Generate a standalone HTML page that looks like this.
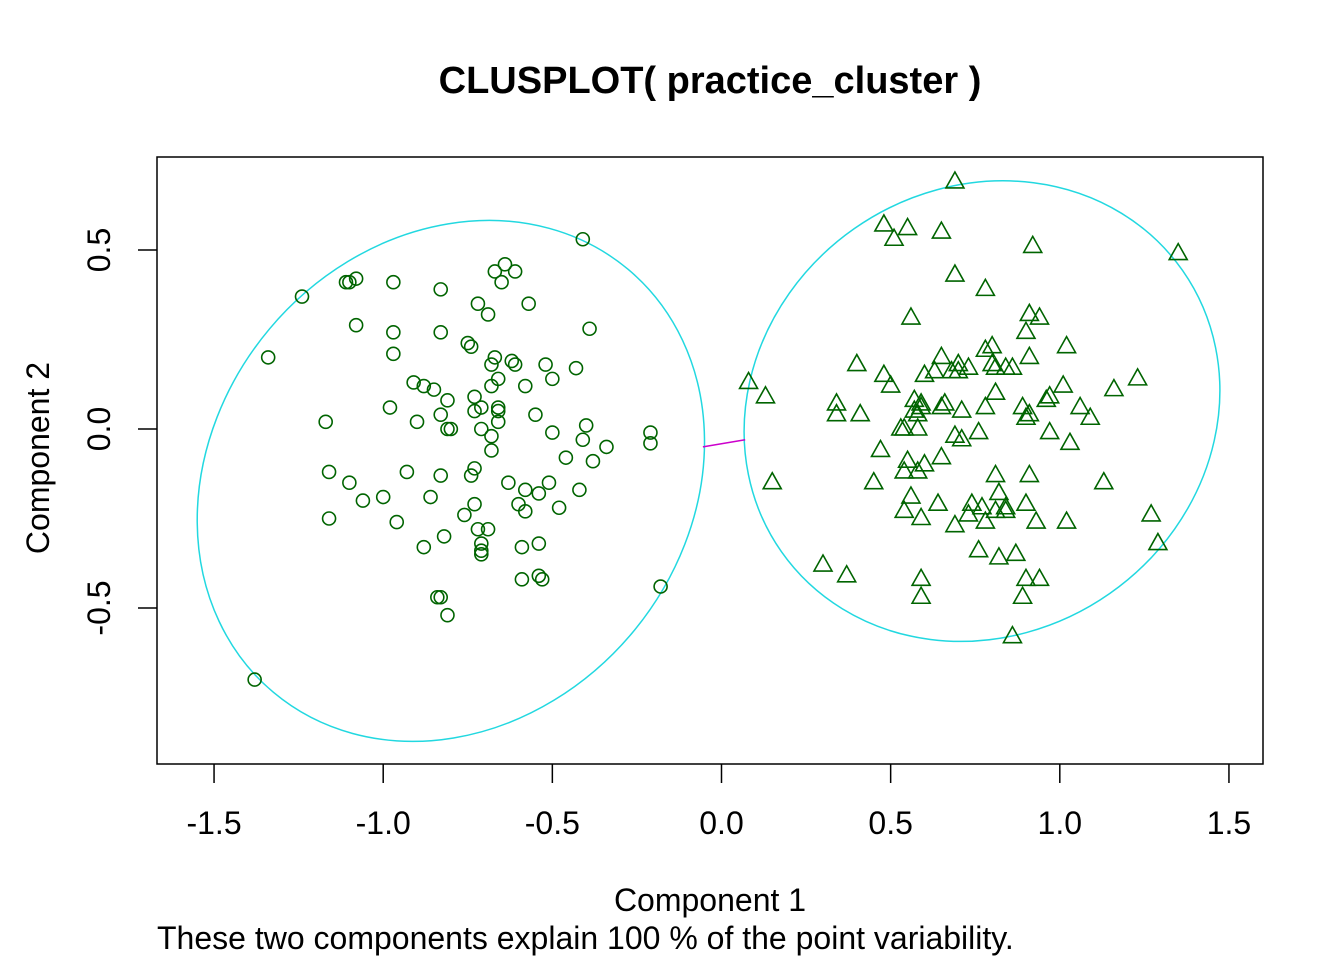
<!DOCTYPE html>
<html><head><meta charset="utf-8"><style>
html,body{margin:0;padding:0;background:#fff;}
svg{display:block;font-family:"Liberation Sans",Arial,sans-serif;}
</style></head><body>
<svg id="chart" width="1344" height="960" viewBox="0 0 1344 960" xmlns="http://www.w3.org/2000/svg">
<rect x="0" y="0" width="1344" height="960" fill="#fff"/>
<text x="710" y="93" font-size="38" font-weight="bold" text-anchor="middle">CLUSPLOT( practice_cluster )</text>
<g id="marks"></g>
<rect x="157" y="157" width="1106" height="607" fill="none" stroke="#000" stroke-width="1.5"/>
<g id="axes"></g>
<text x="710" y="911" font-size="32" text-anchor="middle">Component 1</text>
<text x="0" y="0" font-size="32" text-anchor="middle" transform="translate(49,458) rotate(-90)">Component 2</text>
<text x="157" y="949" font-size="32">These two components explain 100 % of the point variability.</text>
</svg>
<script>
const xTicks=[-1.5,-1.0,-0.5,0.0,0.5,1.0,1.5];
const xTickLabels=["-1.5","-1.0","-0.5","0.0","0.5","1.0","1.5"];
const yTicks=[-0.5,0.0,0.5];
const yTickLabels=["-0.5","0.0","0.5"];
const cluster1X=[-0.41,-1.24,-1.34,-1.11,-1.10,-1.08,-0.97,-1.08,-0.97,-0.97,-0.83,-0.72,-0.69,-0.83,-0.75,-0.74,-0.67,-0.64,-0.61,-0.65,-0.57,-0.39,-0.67,-0.62,-0.61,-0.68,-0.66,-0.68,-0.58,-0.52,-0.50,-0.43,-0.91,-0.88,-0.85,-0.73,-0.81,-0.98,-0.83,-0.90,-0.73,-0.71,-0.66,-0.66,-0.55,-0.40,-1.17,-0.81,-0.80,-0.71,-0.66,-0.68,-0.50,-0.41,-0.34,-0.38,-0.46,-0.21,-0.21,-0.68,-1.16,-1.10,-1.06,-1.00,-0.93,-0.83,-0.73,-0.74,-0.63,-0.58,-0.54,-0.51,-0.42,-1.16,-0.96,-0.86,-0.73,-0.76,-0.60,-0.58,-0.48,-0.88,-0.82,-0.72,-0.69,-0.71,-0.71,-0.71,-0.59,-0.54,-0.59,-0.54,-0.53,-0.84,-0.83,-0.81,-0.18,-1.38];
const cluster1Y=[0.53,0.37,0.20,0.41,0.41,0.42,0.41,0.29,0.27,0.21,0.39,0.35,0.32,0.27,0.24,0.23,0.44,0.46,0.44,0.41,0.35,0.28,0.20,0.19,0.18,0.18,0.14,0.12,0.12,0.18,0.14,0.17,0.13,0.12,0.11,0.09,0.08,0.06,0.04,0.02,0.05,0.06,0.06,0.05,0.04,0.01,0.02,0.00,0.00,0.00,0.02,-0.02,-0.01,-0.03,-0.05,-0.09,-0.08,-0.01,-0.04,-0.06,-0.12,-0.15,-0.20,-0.19,-0.12,-0.13,-0.11,-0.13,-0.15,-0.17,-0.18,-0.15,-0.17,-0.25,-0.26,-0.19,-0.21,-0.24,-0.21,-0.23,-0.22,-0.33,-0.30,-0.28,-0.28,-0.32,-0.34,-0.35,-0.33,-0.32,-0.42,-0.41,-0.42,-0.47,-0.47,-0.52,-0.44,-0.70];
const cluster2X=[0.69,1.35,0.48,0.55,0.51,0.65,0.92,0.69,0.78,0.56,0.91,0.94,0.90,1.02,0.65,0.78,0.80,0.70,0.63,0.68,0.70,0.40,0.60,0.48,0.50,0.91,0.84,0.81,0.86,0.80,0.73,0.08,0.13,1.01,1.16,1.23,0.81,0.97,0.96,0.34,0.41,0.34,0.57,0.59,0.59,0.66,0.65,0.58,0.57,0.71,0.78,0.89,0.91,0.90,1.06,1.09,0.97,1.03,0.53,0.54,0.58,0.76,0.69,0.71,0.47,0.65,0.55,0.60,0.54,0.58,0.45,0.15,0.81,0.91,1.13,0.82,0.56,0.64,0.54,0.74,0.77,0.90,0.84,0.84,0.81,0.59,0.73,0.69,0.78,0.93,1.02,1.27,1.29,0.76,0.82,0.87,0.30,0.37,0.59,0.90,0.94,0.59,0.89,0.86];
const cluster2Y=[0.69,0.49,0.57,0.56,0.53,0.55,0.51,0.43,0.39,0.31,0.32,0.31,0.27,0.23,0.20,0.22,0.23,0.18,0.16,0.16,0.16,0.18,0.15,0.15,0.12,0.20,0.17,0.17,0.17,0.18,0.17,0.13,0.09,0.12,0.11,0.14,0.10,0.09,0.08,0.07,0.04,0.04,0.08,0.07,0.06,0.07,0.06,0.04,0.05,0.05,0.06,0.06,0.04,0.03,0.06,0.03,-0.01,-0.04,0.00,0.00,0.00,-0.01,-0.02,-0.03,-0.06,-0.08,-0.09,-0.10,-0.12,-0.12,-0.15,-0.15,-0.13,-0.13,-0.15,-0.18,-0.19,-0.21,-0.23,-0.21,-0.22,-0.21,-0.23,-0.22,-0.23,-0.25,-0.24,-0.27,-0.26,-0.26,-0.26,-0.24,-0.32,-0.34,-0.36,-0.35,-0.38,-0.41,-0.42,-0.42,-0.42,-0.47,-0.47,-0.58];
const ellipseCx=[-0.80,0.77];
const ellipseCy=[-0.145,0.05];
const ellipseA=[0.80,0.71];
const ellipseB=[0.68,0.64];
const ellipseAngle=[50,35];
const linkX=[-0.055,0.07];
const linkY=[-0.05,-0.03];

const NS="http://www.w3.org/2000/svg";
const xs=v=>721.5+v*338.3;
const ys=v=>429-v*358;
function mk(tag,attrs,parent){const e=document.createElementNS(NS,tag);for(const k in attrs)e.setAttribute(k,attrs[k]);parent.appendChild(e);return e;}
const marks=document.getElementById('marks');
const axes=document.getElementById('axes');

for(let i=0;i<ellipseCx.length;i++){
  const cx=xs(ellipseCx[i]),cy=ys(ellipseCy[i]);
  const e=mk('ellipse',{cx:cx,cy:cy,rx:ellipseA[i]*345,ry:ellipseB[i]*348,fill:'none',stroke:'#22d8e0','stroke-width':1.5,transform:`rotate(${-ellipseAngle[i]} ${cx} ${cy})`},marks);
  
  
}
const ln=mk('line',{x1:xs(linkX[0]),y1:ys(linkY[0]),x2:xs(linkX[1]),y2:ys(linkY[1]),stroke:'#cc00cc','stroke-width':1.5},marks);



for(let i=0;i<cluster1X.length;i++){
  const c=mk('circle',{cx:xs(cluster1X[i]),cy:ys(cluster1Y[i]),r:6.5,fill:'none',stroke:'#006400','stroke-width':1.6},marks);
  
  
}
for(let i=0;i<cluster2X.length;i++){
  const x=xs(cluster2X[i]),y=ys(cluster2Y[i]);
  const t=mk('polygon',{points:`${x},${y-10} ${x+9},${y+6} ${x-9},${y+6}`,fill:'none',stroke:'#006400','stroke-width':1.6},marks);
  
  
}

for(let i=0;i<xTicks.length;i++){
  const x=xs(xTicks[i]);
  const tk=mk('line',{x1:x,y1:764,x2:x,y2:783,stroke:'#000','stroke-width':1.5},axes);
  
  
  const tl=mk('text',{x:x,y:834,'font-size':32,'text-anchor':'middle'},axes);
  tl.textContent=xTickLabels[i];
  
  
}
for(let i=0;i<yTicks.length;i++){
  const y=ys(yTicks[i]);
  const tk=mk('line',{x1:138,y1:y,x2:157,y2:y,stroke:'#000','stroke-width':1.5},axes);
  
  
  const tl=mk('text',{x:0,y:0,'font-size':32,'text-anchor':'middle',transform:`translate(110,${y}) rotate(-90)`},axes);
  tl.textContent=yTickLabels[i];
  
  
}
</script>
</body></html>
